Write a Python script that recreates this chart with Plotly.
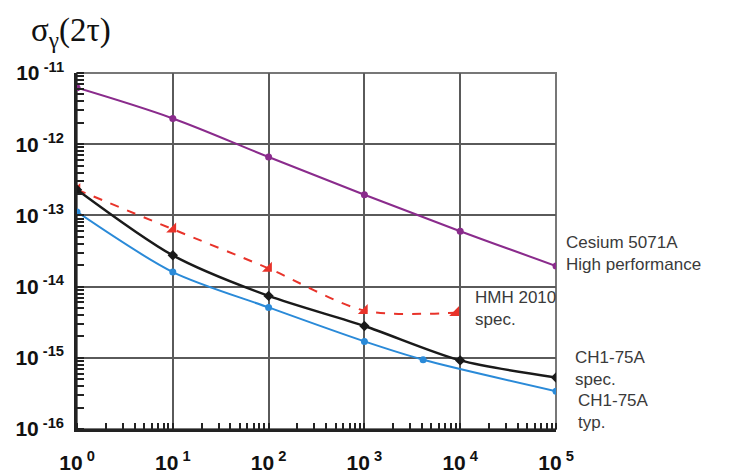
import math
import plotly.graph_objects as go

# Data (log-log Allan deviation)
cesium_x = [1, 10, 100, 1000, 10000, 100000]
cesium_y = [6.2e-12, 2.3e-12, 6.6e-13, 1.95e-13, 6.0e-14, 1.95e-14]

hmh_x = [1, 10, 100, 1000, 9000]
hmh_y = [2.3e-13, 6.4e-14, 1.8e-14, 4.6e-15, 4.3e-15]

spec_x = [1, 10, 100, 1000, 10000, 100000]
spec_y = [2.3e-13, 2.75e-14, 7.4e-15, 2.8e-15, 9.2e-16, 5.3e-16]

typ_x = [1, 10, 100, 1000, 4100, 100000]
typ_y = [1.12e-13, 1.6e-14, 5.1e-15, 1.7e-15, 9.4e-16, 3.4e-16]

x_tickvals = [1, 10, 100, 1000, 10000, 100000]
x_exps = ["0", "1", "2", "3", "4", "5"]
y_tickvals = [1e-16, 1e-15, 1e-14, 1e-13, 1e-12, 1e-11]
y_exps = ["-16", "-15", "-14", "-13", "-12", "-11"]

x_ticktext = ["<b>10</b><sup><b> %s</b></sup>" % e for e in x_exps]
y_ticktext = ["<b>10</b><sup><b> %s</b></sup>" % e for e in y_exps]

labels = [
    ("Cesium 5071A<br>High performance", 100000, 1.95e-14, 8, 12),
    ("HMH 2010<br>spec.", 9000, 4.3e-15, 17, 4),
    ("CH1-75A<br>spec.", 100000, 5.3e-16, 17, 9),
    ("CH1-75A<br>typ.", 100000, 3.4e-16, 20, -20),
]

fig = go.Figure()

fig.add_trace(go.Scatter(x=cesium_x, y=cesium_y, mode="lines+markers",
                         line=dict(color="#8a2b8c", width=2, shape="spline", smoothing=1.0),
                         marker=dict(color="#8a2b8c", size=7, symbol="circle")))
fig.add_trace(go.Scatter(x=hmh_x, y=hmh_y, mode="lines+markers",
                         line=dict(color="#e8332a", width=2, dash="dash", shape="spline", smoothing=0.8),
                         marker=dict(color="#e8332a", size=11, symbol="triangle-se")))
fig.add_trace(go.Scatter(x=spec_x, y=spec_y, mode="lines+markers",
                         line=dict(color="#1a1a1a", width=2.5, shape="spline", smoothing=0.8),
                         marker=dict(color="#1a1a1a", size=8, symbol="diamond")))
fig.add_trace(go.Scatter(x=typ_x, y=typ_y, mode="lines+markers",
                         line=dict(color="#2a8ad8", width=2, shape="spline", smoothing=0.8),
                         marker=dict(color="#2a8ad8", size=7, symbol="circle")))

font_labels = dict(family="Arial, Liberation Sans, sans-serif", size=17, color="#3a3a3a")
for text, lx, ly, xs, ys in labels:
    fig.add_annotation(x=math.log10(lx), y=math.log10(ly), xref="x", yref="y",
                       text=text, showarrow=False,
                       xanchor="left", yanchor="middle", align="left",
                       xshift=xs, yshift=ys, font=font_labels)

# Axis quantity label at the top left
fig.add_annotation(xref="paper", yref="paper", x=-0.1, y=1.115,
                   text="σ<sub>γ</sub>(2τ)", showarrow=False, xanchor="left", yanchor="middle",
                   font=dict(family="Liberation Serif, Times New Roman, serif", size=33, color="#111"))

tickfont = dict(family="Arial, Liberation Sans, sans-serif", size=21, color="#111")

fig.update_xaxes(type="log", range=[0, 5], tickvals=x_tickvals, ticktext=x_ticktext,
                 showgrid=True, gridcolor="#5a5a5a", gridwidth=2,
                 showline=True, linecolor="#222", linewidth=2.5, mirror=False,
                 ticks="", tickfont=tickfont, ticklabelstandoff=13, automargin=False,
                 minor=dict(ticks="inside", ticklen=6, tickwidth=1.5, tickcolor="#222",
                            showgrid=False, dtick="D1"),
                 zeroline=False)
fig.update_yaxes(type="log", range=[-16, -11], tickvals=y_tickvals, ticktext=y_ticktext,
                 showgrid=True, gridcolor="#5a5a5a", gridwidth=2,
                 showline=True, linecolor="#222", linewidth=2.5, mirror=False,
                 ticks="", tickfont=tickfont, ticklabelstandoff=6, automargin=False,
                 minor=dict(ticks="inside", ticklen=7, tickwidth=1.5, tickcolor="#222",
                            showgrid=False, dtick="D1"),
                 zeroline=False)

# top/right frame
fig.add_shape(type="rect", xref="paper", yref="paper", x0=0, y0=0, x1=1, y1=1,
              line=dict(color="#777", width=2), layer="below")

fig.update_layout(width=740, height=476, showlegend=False,
                  margin=dict(l=69, r=192, t=65, b=55, autoexpand=False),
                  plot_bgcolor="white", paper_bgcolor="white",
                  font=dict(family="Arial, Liberation Sans, sans-serif"))

fig.write_html("out.html")
